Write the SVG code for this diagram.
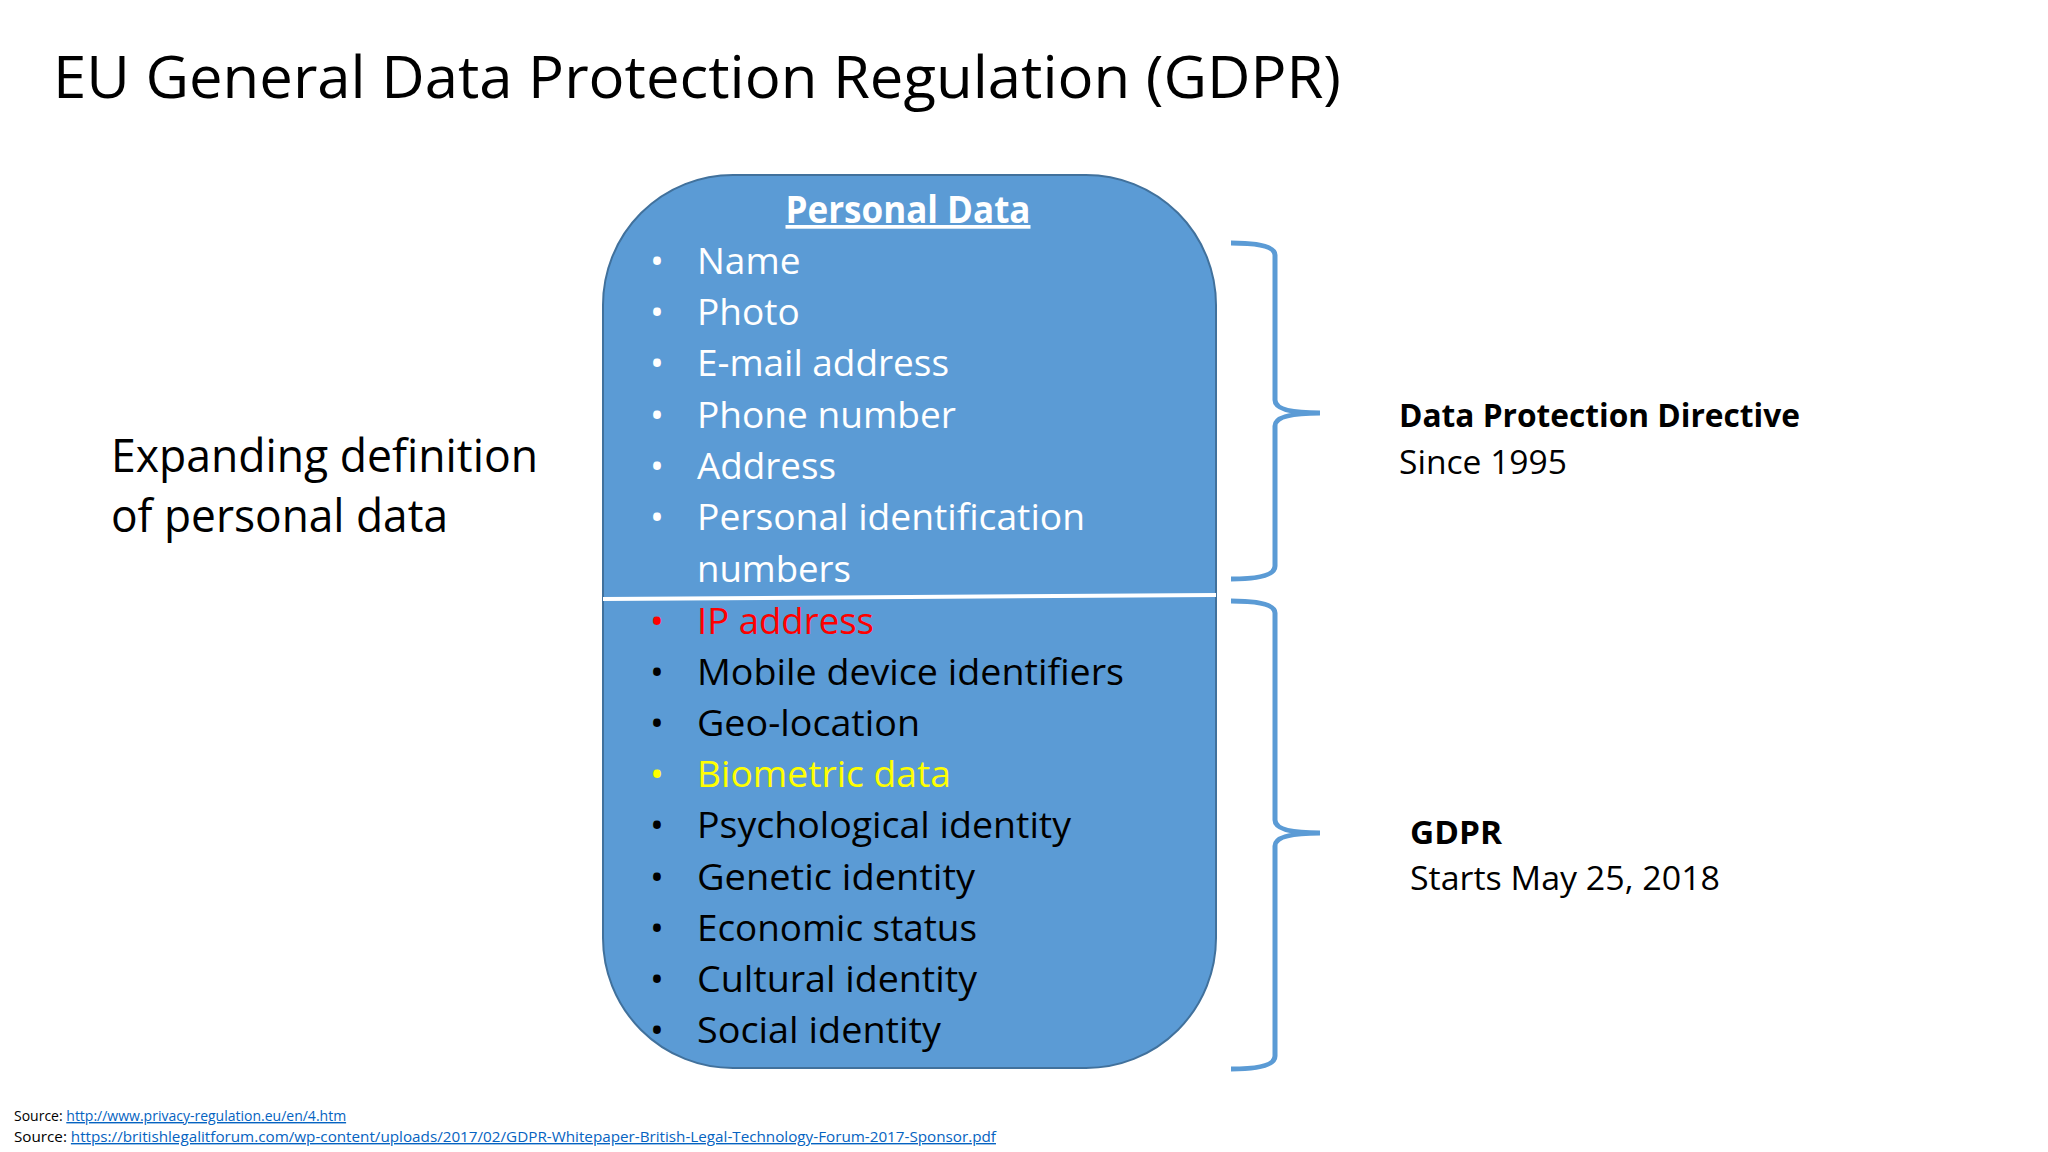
<svg xmlns="http://www.w3.org/2000/svg" width="2048" height="1152" viewBox="0 0 2048 1152">
<style>
text{font-family:"Open Sans","Noto Sans","Liberation Sans",sans-serif}
.li{font-size:37px;fill:#fff}
.lb{font-size:37px;fill:#000}
.br{fill:none;stroke:#5B9BD5;stroke-width:5}
.src{font-size:14px;fill:#000}
.lnk{font-size:14px;fill:#0563C1;text-decoration:underline}
</style>
<rect width="2048" height="1152" fill="#fff"/>
<text x="53" y="98" font-size="58" textLength="1288" lengthAdjust="spacingAndGlyphs">EU General Data Protection Regulation (GDPR)</text>
<g id="left-label">
<text x="111" y="472" font-size="45" textLength="427" lengthAdjust="spacingAndGlyphs">Expanding definition</text>
<text x="111" y="532" font-size="45" textLength="337" lengthAdjust="spacingAndGlyphs">of personal data</text>
</g>
<g id="personal-data">
<rect x="603" y="175" width="613" height="893" rx="130" ry="130" fill="#5B9BD5" stroke="#41719C" stroke-width="2"/>
<line x1="603" y1="599" x2="1216" y2="595" stroke="#fff" stroke-width="4"/>
<text x="908" y="223" font-size="37" font-weight="bold" fill="#fff" text-anchor="middle" text-decoration="underline" textLength="245" lengthAdjust="spacingAndGlyphs">Personal Data</text>
<g class="li">
<text x="650" y="274">•</text><text x="697" y="274">Name</text>
<text x="650" y="325">•</text><text x="697" y="325">Photo</text>
<text x="650" y="376">•</text><text x="697" y="376" textLength="252" lengthAdjust="spacingAndGlyphs">E-mail address</text>
<text x="650" y="428">•</text><text x="697" y="428" textLength="259" lengthAdjust="spacingAndGlyphs">Phone number</text>
<text x="650" y="479">•</text><text x="697" y="479" textLength="139" lengthAdjust="spacingAndGlyphs">Address</text>
<text x="650" y="530">•</text><text x="697" y="530" textLength="388" lengthAdjust="spacingAndGlyphs">Personal identification</text>
<text x="697" y="582" textLength="154" lengthAdjust="spacingAndGlyphs">numbers</text>
</g>
<g class="lb">
<text x="650" y="634" fill="#FF0000">•</text><text x="697" y="634" fill="#FF0000" textLength="177" lengthAdjust="spacingAndGlyphs">IP address</text>
<text x="650" y="685">•</text><text x="697" y="685" textLength="427" lengthAdjust="spacingAndGlyphs">Mobile device identifiers</text>
<text x="650" y="736">•</text><text x="697" y="736" textLength="223" lengthAdjust="spacingAndGlyphs">Geo-location</text>
<text x="650" y="787" fill="#FFFF00">•</text><text x="697" y="787" fill="#FFFF00" textLength="254" lengthAdjust="spacingAndGlyphs">Biometric data</text>
<text x="650" y="838">•</text><text x="697" y="838" textLength="374" lengthAdjust="spacingAndGlyphs">Psychological identity</text>
<text x="650" y="890">•</text><text x="697" y="890" textLength="278" lengthAdjust="spacingAndGlyphs">Genetic identity</text>
<text x="650" y="941">•</text><text x="697" y="941" textLength="280" lengthAdjust="spacingAndGlyphs">Economic status</text>
<text x="650" y="992">•</text><text x="697" y="992" textLength="280" lengthAdjust="spacingAndGlyphs">Cultural identity</text>
<text x="650" y="1043">•</text><text x="697" y="1043" textLength="244" lengthAdjust="spacingAndGlyphs">Social identity</text>
</g>
</g>
<g id="connectors">
<path class="br" d="M1231,243 Q1275,243 1275,255 L1275,400 Q1275,413 1320,413 Q1275,413 1275,426 L1275,566 Q1275,579 1231,579"/>
<path class="br" d="M1231,601 Q1275,601 1275,613 L1275,820 Q1275,833 1320,833 Q1275,833 1275,846 L1275,1056 Q1275,1069 1231,1069"/>
</g>
<g id="dpd">
<text x="1399" y="427" font-size="33" font-weight="bold" textLength="401" lengthAdjust="spacingAndGlyphs">Data Protection Directive</text>
<text x="1399" y="474" font-size="33" textLength="168" lengthAdjust="spacingAndGlyphs">Since 1995</text>
</g>
<g id="gdpr">
<text x="1410" y="844" font-size="33" font-weight="bold" textLength="92" lengthAdjust="spacingAndGlyphs">GDPR</text>
<text x="1410" y="890" font-size="33" textLength="310" lengthAdjust="spacingAndGlyphs">Starts May 25, 2018</text>
</g>
<g id="sources">
<text class="src" x="14" y="1121">Source: <tspan class="lnk">http://www.privacy-regulation.eu/en/4.htm</tspan></text>
<text class="src" x="14" y="1142" textLength="982" lengthAdjust="spacingAndGlyphs">Source: <tspan class="lnk">https://britishlegalitforum.com/wp-content/uploads/2017/02/GDPR-Whitepaper-British-Legal-Technology-Forum-2017-Sponsor.pdf</tspan></text>
</g>
</svg>
